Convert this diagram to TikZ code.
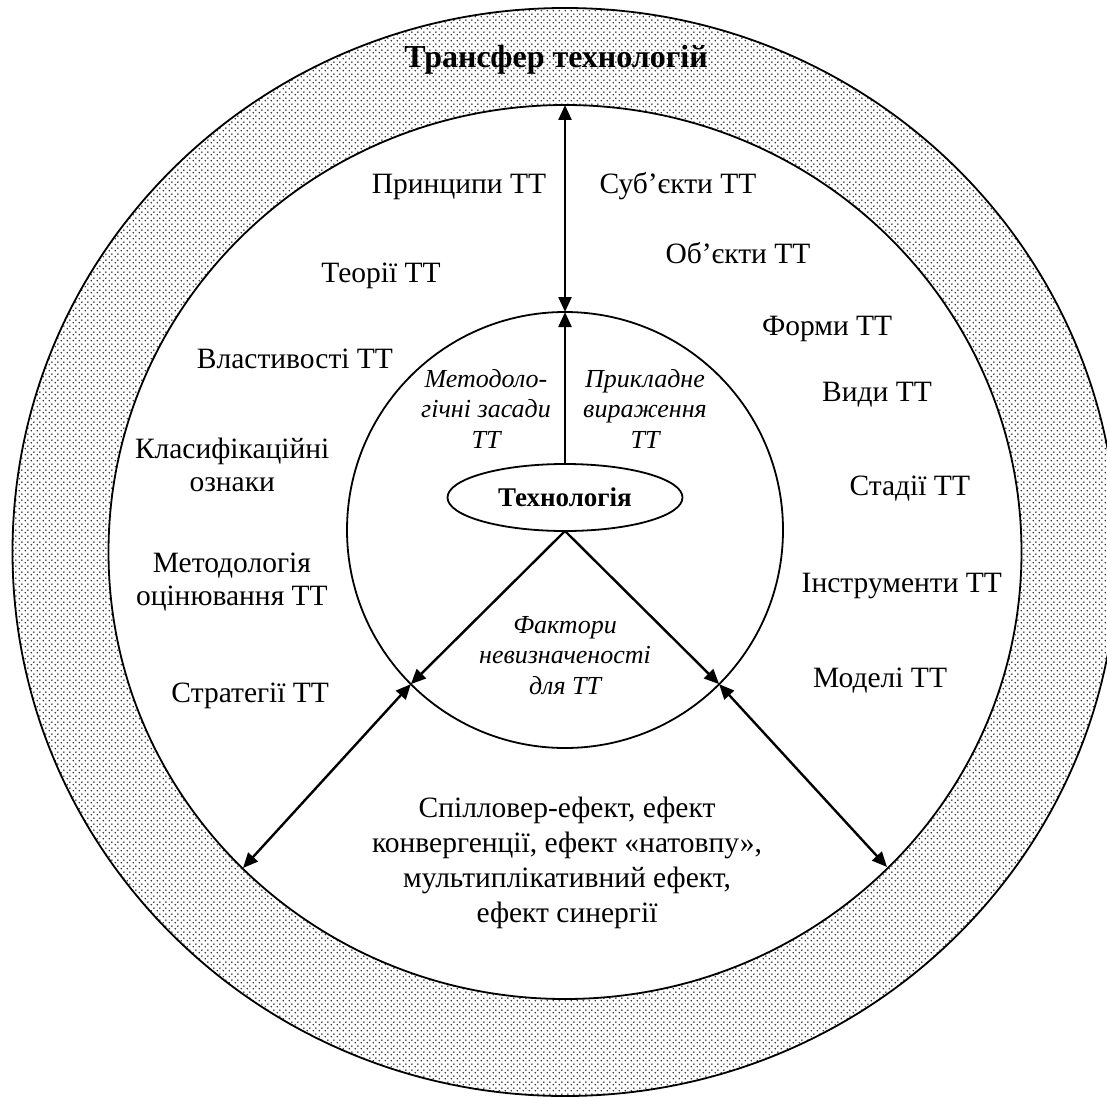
\documentclass[tikz,border=0pt]{standalone}
\usepackage{fontspec}
\setmainfont{Liberation Serif}
\usetikzlibrary{arrows.meta,patterns.meta,shapes.geometric}

\tikzdeclarepattern{
  name=bandots,
  type=uncolored,
  bottom left={(0pt,0pt)},
  top right={(6pt,6pt)},
  tile size={(6pt,6pt)},
  code={
    \pgfpathcircle{\pgfqpoint{1.5pt}{1.5pt}}{0.95pt}
    \pgfpathcircle{\pgfqpoint{4.5pt}{4.5pt}}{0.95pt}
    \pgfusepath{fill}
  }
}

\tikzset{
  ring/.style={draw=black, line width=1.8pt},
  arr/.style={draw=black, line width=2.4pt},
  tip/.tip={Triangle[length=15pt,width=13pt]},
  lbl/.style={font=\fontsize{29.5}{35}\selectfont, inner sep=0pt, outer sep=0pt},
  itl/.style={font=\fontsize{26}{30.5}\selectfont\itshape, align=center, inner sep=0pt, outer sep=0pt},
}

\begin{document}
\begin{tikzpicture}[x=1pt,y=-1pt]
\useasboundingbox (0,0) rectangle (1107,1097);
\fill[white] (0,0) rectangle (1107,1097);

% dotted band
\begin{scope}
\clip (0,0) rectangle (1107,1097);
\fill[pattern=bandots, pattern color=black!85, even odd rule]
  (565,552) ellipse [x radius=552.5pt, y radius=544pt]
  (565,552) ellipse [x radius=456.5pt, y radius=447pt];
\draw[ring] (565,552) ellipse [x radius=552.5pt, y radius=544pt];
\draw[ring] (565,552) ellipse [x radius=456.5pt, y radius=447pt];
\end{scope}

\coordinate (bandT) at (565,105);
\coordinate (bandL) at (243,868);
\coordinate (bandR) at (887,867);

% core circle and technology ellipse
\node[draw, ring, circle, minimum size=436pt, inner sep=0pt, outer sep=0pt] (core) at (565,530) {};
\node[draw, ring, ellipse, minimum width=235pt, minimum height=67pt, inner sep=0pt, outer sep=0pt,
      font=\fontsize{27}{31}\selectfont\bfseries] (tech) at (565,497.5) {Технологія};

% connectors
\draw[arr, -{tip}] (tech.north) -- (core.north);
\draw[arr, {tip}-{tip}] (core.north) -- (bandT);
\draw[arr, -{tip}] (tech.south) -- (core.225);
\draw[arr, -{tip}] (tech.south) -- (core.-45);
\draw[arr, {tip}-{tip}] (core.225) -- (bandL);
\draw[arr, {tip}-{tip}] (core.-45) -- (bandR);

% title
\node[font=\fontsize{32}{36}\selectfont\bfseries, anchor=base, inner sep=0pt] (title) at (556,68) {Трансфер технологій};

% labels
\node[lbl, anchor=base] (princ) at (459,193) {Принципи ТТ};
\node[lbl, anchor=base] (subj) at (678,193) {Суб’єкти ТТ};
\node[lbl, anchor=base] (obj) at (738,263) {Об’єкти ТТ};
\node[lbl, anchor=base] (theor) at (381,282) {Теорії ТТ};
\node[lbl, anchor=base west] (forms) at (762,335) {Форми ТТ};
\node[lbl, anchor=base east] (props) at (393,368) {Властивості ТТ};
\node[lbl, anchor=base] (kinds) at (877,401) {Види ТТ};
\node[lbl, anchor=west, align=center, font=\fontsize{29.5}{33}\selectfont] (class) at (135,467.9) {\strut Класифікаційні\\ознаки\strut};
\node[lbl, anchor=base east] (stages) at (970,495) {Стадії ТТ};
\node[lbl, anchor=west, align=center, font=\fontsize{29.5}{33}\selectfont] (meth) at (136,581.9) {\strut Методологія\\оцінювання ТТ\strut};
\node[lbl, anchor=base east] (instr) at (1002,592) {Інструменти ТТ};
\node[lbl, anchor=base east] (strat) at (329,702) {Стратегії ТТ};
\node[lbl, anchor=base east] (models) at (947,687) {Моделі ТТ};

\node[itl] (mfound) at (486,411.4) {\strut Методоло-\\гічні засади\\ТТ\strut};
\node[itl] (applied) at (645,411.4) {\strut Прикладне\\вираження\\ТТ\strut};
\node[itl] (factors) at (565,657.4) {\strut Фактори\\невизначеності\\для ТТ\strut};

\node[lbl, align=center] (effects) at (567,863) {\strut Спілловер-ефект, ефект\\конвергенції, ефект «натовпу»,\\мультиплікативний ефект,\\ефект синергії\strut};
\end{tikzpicture}
\end{document}
